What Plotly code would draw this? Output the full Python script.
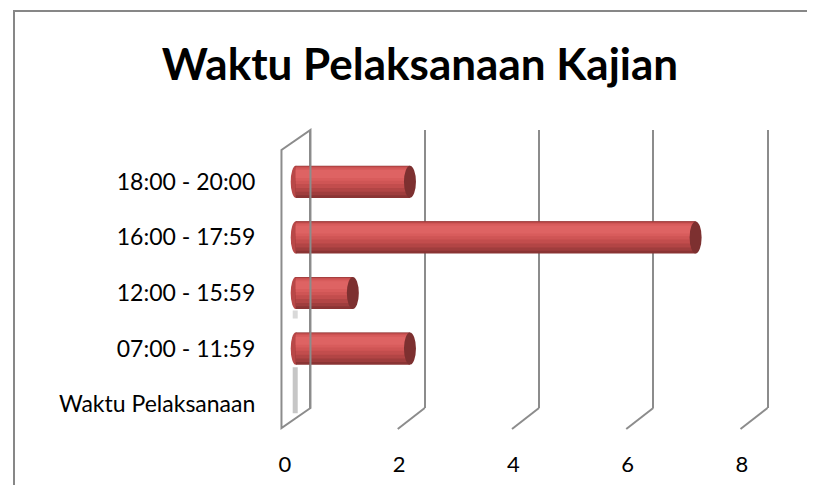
import plotly.graph_objects as go

# page body has an 8px default margin -> size the figure so the page fits the 815x493 window
OFF = 8
W, H = 815 - 2 * OFF, 493 - 2 * OFF

# ---- data ----
categories = ["Waktu Pelaksanaan", "07:00 - 11:59", "12:00 - 15:59", "16:00 - 17:59", "18:00 - 20:00"]
values = [0, 2, 1, 7, 2]
x_ticks = [0, 2, 4, 6, 8]
title_text = "Waktu Pelaksanaan Kajian"


def fx(px):
    return (px - OFF) / W


def fy(py):
    return 1 - (py - OFF) / H


GRID = "#8c8c8c"
FONT = "Lato, Carlito, Calibri, sans-serif"

UNIT = 58.0           # px per unit on the value axes
DX, DY = 29, 20       # 3D depth offset (px)
WALL_TOP, WALL_BOT = 130, 408
PAD = 0.1             # range padding so edge gridlines are drawn
BPAD = 0.2            # left padding of the bar axis so the rounded start is visible

fig = go.Figure()

# cylinder-like bars: layered horizontal bars (bottom dark -> upper highlight)
layers = [
    ("#8a3434", -0.29, 0.290),
    ("#9f3d3d", -0.24, 0.285),
    ("#b24545", -0.18, 0.280),
    ("#c24d4d", -0.11, 0.270),
    ("#cf5555", -0.04, 0.260),
    ("#d85c5c", 0.02, 0.240),
    ("#de6363", 0.07, 0.210),
]
for color, lo, hi in layers:
    fig.add_trace(go.Bar(
        x=values, y=categories, orientation="h",
        xaxis="x2", yaxis="y",
        marker=dict(color=color, line=dict(width=0)),
        width=hi - lo, offset=lo, hoverinfo="skip", showlegend=False,
    ))

# invisible traces so the helper axes/subplots exist
fig.add_trace(go.Scatter(x=x_ticks, y=[categories[0]] * len(x_ticks), xaxis="x3", yaxis="y",
                         mode="markers", marker=dict(opacity=0), hoverinfo="skip", showlegend=False))
fig.add_trace(go.Scatter(x=x_ticks, y=[0.5] * len(x_ticks), xaxis="x", yaxis="y2",
                         mode="markers", marker=dict(opacity=0), hoverinfo="skip", showlegend=False))
fig.add_trace(go.Scatter(x=x_ticks, y=[0.5] * len(x_ticks), xaxis="x4", yaxis="y4",
                         mode="markers", marker=dict(opacity=0), hoverinfo="skip", showlegend=False))

shapes = []
# end caps
for i, v in enumerate(values):
    if v > 0:
        shapes.append(dict(type="circle", xref="x2", xsizemode="pixel", xanchor=v, x0=-6, x1=6,
                           yref="y", ysizemode="pixel", yanchor=i, y0=-16, y1=16,
                           fillcolor="#7d3030", line=dict(width=0), layer="above"))
        shapes.append(dict(type="circle", xref="x2", xsizemode="pixel", xanchor=0, x0=-5, x1=5,
                           yref="y", ysizemode="pixel", yanchor=i, y0=-16, y1=16,
                           fillcolor="#b84848", line=dict(width=0), layer="below"))

# ghost of zero-value cylinder
shapes.append(dict(type="rect", xref="x2", xsizemode="pixel", xanchor=0, x0=-3, x1=2,
                   yref="y", ysizemode="pixel", yanchor=0, y0=-9, y1=37,
                   fillcolor="#b3b3b3", opacity=0.75, line=dict(width=0), layer="below"))
shapes.append(dict(type="rect", xref="x2", xsizemode="pixel", xanchor=0, x0=-3, x1=2,
                   yref="y", ysizemode="pixel", yanchor=1, y0=30, y1=38,
                   fillcolor="#c0c0c0", opacity=0.6, line=dict(width=0), layer="below"))

# left wall (on helper subplot x4/y4 that covers the 3D frame)
h = WALL_BOT - WALL_TOP
shapes.append(dict(type="path", xref="x4", xsizemode="pixel", xanchor=0,
                   yref="y4", ysizemode="pixel", yanchor=0,
                   path=f"M 0,0 L {-DX},{-DY} L {-DX},{h - DY} L 0,{h} Z",
                   line=dict(color=GRID, width=2), fillcolor="rgba(0,0,0,0)"))
# floor diagonals
for v in x_ticks[1:]:
    shapes.append(dict(type="line", xref="x4", xsizemode="pixel", xanchor=v, x0=0, x1=-DX + 2,
                       yref="y4", ysizemode="pixel", yanchor=0, y0=0, y1=-DY - 1,
                       line=dict(color=GRID, width=2)))

# chart border
shapes.append(dict(type="rect", xref="paper", yref="paper",
                   x0=fx(8), x1=1.05, y0=-0.05, y1=fy(11),
                   line=dict(color="#878787", width=2)))

fig.update_layout(
    width=W, height=H,
    margin=dict(l=0, r=0, t=0, b=0),
    paper_bgcolor="white", plot_bgcolor="rgba(0,0,0,0)",
    barmode="overlay",
    font=dict(family=FONT, color="black"),
    title=dict(text="<b>" + title_text + "</b>", x=fx(420), xanchor="center",
               y=fy(65), yanchor="middle", font=dict(family=FONT, size=44, color="black")),
    shapes=shapes,
    # back wall gridlines
    xaxis=dict(domain=[fx(309 - PAD * UNIT), fx(773 + PAD * UNIT)], range=[-PAD, 8 + PAD],
               anchor="y2", tickvals=x_ticks, showticklabels=False, showgrid=True,
               gridcolor=GRID, gridwidth=2, zeroline=False, showline=False, ticks=""),
    yaxis2=dict(domain=[fy(WALL_BOT), fy(WALL_TOP)], range=[0, 1], anchor="x",
                visible=False, showgrid=False, zeroline=False),
    # helper frame subplot: same scale as back axis, extended by the depth offset
    xaxis4=dict(domain=[fx(309 - DX - 4), fx(773 + 4)],
                range=[-(DX + 4) / UNIT, 8 + 4 / UNIT], anchor="y4",
                visible=False, showgrid=False, zeroline=False),
    yaxis4=dict(domain=[fy(WALL_BOT + DY + 4), fy(WALL_TOP - 4)],
                range=[-(DY + 4) / h, 1 + 4 / h], anchor="x4",
                visible=False, showgrid=False, zeroline=False),
    # bars
    xaxis2=dict(domain=[fx(294 - BPAD * UNIT), fx(758)], range=[-BPAD, 8], anchor="y",
                visible=False, showgrid=False, zeroline=False),
    # front tick labels
    xaxis3=dict(domain=[fx(283), fx(747)], range=[0, 8], anchor="free", position=fy(449),
                tickvals=x_ticks, showgrid=False, zeroline=False, showline=False, ticks="",
                tickfont=dict(family=FONT, size=22, color="black")),
    yaxis=dict(domain=[fy(432), fy(154)], type="category", categoryorder="array",
               categoryarray=categories, range=[-0.5, 4.5], anchor="free", position=fx(253),
               showgrid=False, zeroline=False, showline=False, ticks="",
               tickfont=dict(family=FONT, size=23, color="black")),
)

fig.write_html("out.html")
